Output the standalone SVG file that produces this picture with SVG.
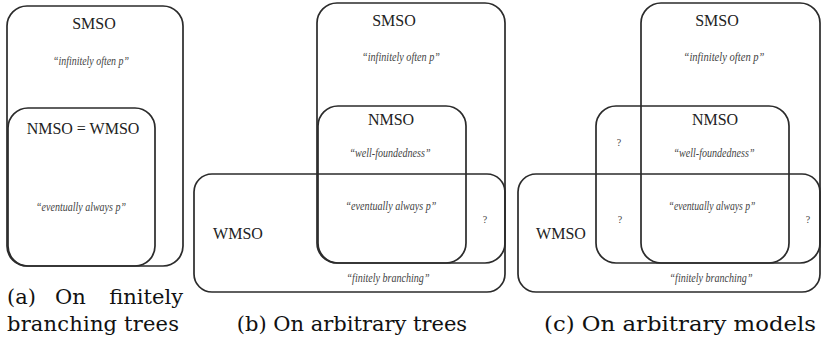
<svg xmlns="http://www.w3.org/2000/svg" width="822" height="339" viewBox="0 0 822 339">
<style>
.box{fill:none;stroke:#2b2b2b;stroke-width:1.7}
.lbl{font-family:"Liberation Serif",serif;font-size:16px;fill:#222;text-anchor:middle}
.it{font-family:"Liberation Serif",serif;font-style:italic;font-size:11.5px;fill:#444;text-anchor:middle}
.q{font-family:"Liberation Serif",serif;font-size:10px;fill:#444;text-anchor:middle}
.cap{font-family:"DejaVu Serif",serif;font-size:21px;fill:#111}
</style>
<rect width="822" height="339" fill="#fff"/>
<g id="panel-a">
  <g id="a-smso">
    <rect class="box" x="7" y="6" width="176" height="260" rx="20"/>
    <text class="lbl" x="94" y="29">SMSO</text>
    <text class="it" x="91" y="65" textLength="76" lengthAdjust="spacingAndGlyphs">“infinitely often p”</text>
  </g>
  <g id="a-nmso-wmso">
    <rect class="box" x="8" y="108" width="147" height="158" rx="20"/>
    <text class="lbl" x="83" y="134">NMSO = WMSO</text>
    <text class="it" x="81" y="211" textLength="90" lengthAdjust="spacingAndGlyphs">“eventually always p”</text>
  </g>
  <text class="cap" y="304"><tspan x="7">(a)</tspan><tspan x="55">On</tspan><tspan x="183" text-anchor="end">finitely</tspan></text>
  <text class="cap" x="7" y="331" textLength="172">branching trees</text>
</g>
<g id="panel-b">
  <g id="b-smso">
    <rect class="box" x="317" y="3" width="188" height="260" rx="20"/>
    <text class="lbl" x="394" y="26">SMSO</text>
    <text class="it" x="401" y="61" textLength="78" lengthAdjust="spacingAndGlyphs">“infinitely often p”</text>
  </g>
  <g id="b-nmso">
    <rect class="box" x="318" y="106" width="148" height="157" rx="20"/>
    <text class="lbl" x="391" y="125">NMSO</text>
    <text class="it" x="390" y="157" textLength="81" lengthAdjust="spacingAndGlyphs">“well-foundedness”</text>
    <text class="it" x="391" y="210" textLength="91" lengthAdjust="spacingAndGlyphs">“eventually always p”</text>
  </g>
  <g id="b-wmso">
    <rect class="box" x="194" y="174" width="311" height="118" rx="18"/>
    <text class="lbl" x="238" y="239">WMSO</text>
    <text class="q" x="485" y="223">?</text>
    <text class="it" x="388" y="282" textLength="83" lengthAdjust="spacingAndGlyphs">“finitely branching”</text>
  </g>
  <text class="cap" x="352" y="331" text-anchor="middle">(b) On arbitrary trees</text>
</g>
<g id="panel-c">
  <g id="c-smso">
    <rect class="box" x="641" y="3" width="179" height="260" rx="20"/>
    <text class="lbl" x="717" y="26">SMSO</text>
    <text class="it" x="724" y="61" textLength="81" lengthAdjust="spacingAndGlyphs">“infinitely often p”</text>
  </g>
  <g id="c-nmso">
    <rect class="box" x="596" y="106" width="193" height="157" rx="20"/>
    <text class="lbl" x="715" y="125">NMSO</text>
    <text class="it" x="714" y="157" textLength="81" lengthAdjust="spacingAndGlyphs">“well-foundedness”</text>
    <text class="q" x="619" y="146">?</text>
    <text class="it" x="712" y="210" textLength="87" lengthAdjust="spacingAndGlyphs">“eventually always p”</text>
    <text class="q" x="620" y="223">?</text>
  </g>
  <g id="c-wmso">
    <rect class="box" x="518" y="174" width="302" height="118" rx="18"/>
    <text class="lbl" x="561" y="239">WMSO</text>
    <text class="q" x="808" y="223">?</text>
    <text class="it" x="711" y="282" textLength="83" lengthAdjust="spacingAndGlyphs">“finitely branching”</text>
  </g>
  <text class="cap" x="544" y="331" textLength="272" lengthAdjust="spacingAndGlyphs">(c) On arbitrary models</text>
</g>
<g id="connectors"/>
</svg>
